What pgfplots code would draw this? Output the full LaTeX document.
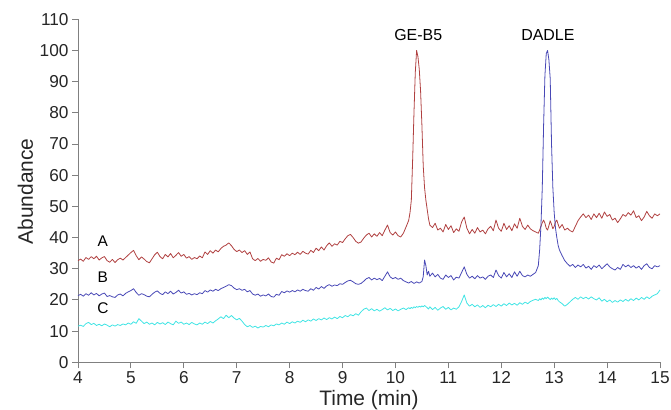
\documentclass[border=0pt]{standalone}
\usepackage{fontspec}
\setmainfont{Liberation Sans}
\usepackage{pgfplots}
\usepackage{pgfplotstable}
\pgfplotsset{compat=1.18}

\definecolor{trA}{RGB}{176,64,64}
\definecolor{trB}{RGB}{72,72,182}
\definecolor{trC}{RGB}{64,228,228}
\definecolor{axgray}{RGB}{128,128,128}

% chromatogram traces: time, A, B, C
\pgfplotstableread{
x A B C
4.00 32.6 21.4 11.6
4.05 33.1 21.8 11.9
4.10 32.4 21.2 11.5
4.15 33.6 22.0 12.4
4.20 33.0 21.5 12.8
4.25 33.9 22.3 12.1
4.30 33.2 21.6 12.5
4.35 34.0 22.1 11.8
4.40 32.8 21.3 12.2
4.45 33.5 21.9 11.7
4.50 33.9 22.2 12.3
4.55 32.6 21.1 11.9
4.60 32.1 21.4 11.4
4.65 33.0 21.0 12.0
4.70 32.0 20.8 11.6
4.75 32.9 21.6 12.1
4.80 33.4 21.9 11.8
4.85 32.8 21.3 12.3
4.90 33.6 22.1 12.0
4.95 34.4 22.6 12.6
5.00 35.2 23.0 12.2
5.05 35.9 23.6 13.0
5.10 34.2 22.4 12.5
5.15 32.9 21.5 14.0
5.20 33.8 22.0 13.2
5.25 33.1 21.7 12.4
5.30 32.3 21.2 12.9
5.35 31.9 21.0 12.2
5.40 33.2 21.8 12.6
5.45 34.5 22.5 12.0
5.50 35.3 22.9 12.8
5.55 33.9 22.1 12.3
5.60 33.2 21.7 12.7
5.65 34.6 22.6 12.1
5.70 33.8 22.0 12.9
5.75 34.9 22.8 12.4
5.80 33.5 21.9 12.0
5.85 34.3 22.4 13.2
5.90 35.2 23.1 12.5
5.95 34.0 22.2 12.9
6.00 34.6 22.6 12.2
6.05 33.4 21.8 12.6
6.10 33.9 22.1 12.1
6.15 33.0 21.6 12.8
6.20 33.6 22.0 12.3
6.25 33.2 21.7 12.0
6.30 34.1 22.3 12.6
6.35 33.5 22.0 12.2
6.40 35.4 23.0 12.9
6.45 34.6 22.5 12.4
6.50 35.8 23.2 13.1
6.55 35.0 22.8 12.6
6.60 36.0 23.4 13.3
6.65 35.4 23.0 13.9
6.70 36.5 23.6 14.6
6.75 37.2 24.0 14.0
6.80 37.6 24.4 15.1
6.85 38.3 24.9 14.3
6.90 37.4 24.6 15.0
6.95 36.2 23.8 14.2
7.00 35.5 23.3 13.6
7.05 36.0 23.6 14.1
7.10 35.2 23.1 13.2
7.15 35.8 23.4 12.1
7.20 34.6 22.6 11.4
7.25 35.4 23.0 11.8
7.30 33.2 21.9 11.2
7.35 32.6 21.5 11.6
7.40 33.3 21.9 11.0
7.45 32.4 21.2 11.5
7.50 33.0 21.6 11.3
7.55 32.7 21.3 11.8
7.60 33.5 21.9 11.4
7.65 32.2 21.1 12.0
7.70 31.8 20.9 11.7
7.75 33.4 21.8 12.3
7.80 32.9 21.5 12.0
7.85 34.5 22.7 12.6
7.90 34.0 22.3 12.2
7.95 34.8 22.9 12.9
8.00 34.2 22.5 12.4
8.05 35.0 23.0 13.0
8.10 34.5 22.6 12.6
8.15 35.3 23.2 13.2
8.20 34.6 22.8 12.8
8.25 35.6 23.4 13.5
8.30 35.0 23.0 13.0
8.35 34.7 22.8 13.6
8.40 35.9 23.6 13.2
8.45 35.2 23.1 13.9
8.50 36.6 24.0 13.4
8.55 35.8 23.5 14.0
8.60 37.0 24.3 13.6
8.65 36.0 23.7 14.2
8.70 37.4 24.5 13.7
8.75 38.3 24.9 14.3
8.80 37.2 24.4 13.9
8.85 38.0 24.8 14.5
8.90 37.6 24.6 14.0
8.95 38.8 25.2 14.7
9.00 38.4 25.0 14.3
9.05 39.6 25.6 15.0
9.10 40.6 26.1 14.6
9.15 41.0 26.3 15.3
9.20 40.0 25.8 14.9
9.25 38.8 25.2 15.6
9.30 38.2 25.0 15.1
9.35 38.6 25.3 16.2
9.40 39.8 26.0 17.0
9.45 40.8 26.8 17.4
9.50 41.4 27.2 16.6
9.55 40.2 26.4 17.2
9.60 41.2 27.0 16.5
9.65 40.4 26.5 17.0
9.70 41.6 26.9 16.4
9.75 40.6 26.2 16.9
9.80 42.4 27.6 17.5
9.85 44.0 29.0 16.8
9.90 41.6 27.4 17.3
9.95 40.8 26.8 16.6
10.00 41.8 27.2 17.1
10.05 40.6 26.6 16.5
10.10 40.2 27.0 17.0
10.15 41.4 26.2 17.4
10.20 43.4 25.8 16.9
10.25 45.5 25.4 17.5
10.275 48 25.7 17.2
10.30 52 25.9 17.6
10.325 65 25.6 17.3
10.35 80 25.3 17.8
10.375 93 25.5 17.5
10.40 100 25.8 17.9
10.425 98 25.6 17.6
10.45 94 25.4 18.0
10.475 87 25.7 17.7
10.50 76 25.9 18.1
10.525 63 27.5 17.8
10.55 56 32.8 18.2
10.575 52 31.0 17.9
10.60 49 28.0 17.5
10.625 46.0 29.2 17.1
10.65 44.0 27.6 17.8
10.70 43.2 28.6 16.9
10.75 44.6 27.4 17.6
10.80 42.4 28.2 16.7
10.85 43.0 27.0 17.4
10.90 41.8 26.6 17.9
10.95 44.2 28.0 17.0
11.00 42.6 27.2 17.6
11.05 43.8 27.8 16.8
11.10 41.6 26.4 17.4
11.15 42.8 27.3 17.0
11.20 42.0 27.0 17.8
11.25 45.0 28.8 19.5
11.30 46.6 30.6 21.6
11.35 43.0 28.2 19.0
11.40 41.2 27.0 18.0
11.45 42.6 27.6 18.6
11.50 41.4 26.8 17.8
11.55 43.2 27.8 18.4
11.60 41.8 27.0 17.6
11.65 42.4 27.4 18.2
11.70 41.2 26.6 17.5
11.75 42.8 27.6 18.3
11.80 43.6 28.0 17.8
11.85 42.2 27.2 18.5
11.90 45.6 29.6 17.9
11.95 43.0 27.8 18.6
12.00 42.0 27.0 18.0
12.05 44.6 28.8 18.8
12.10 42.6 27.4 18.2
12.15 43.8 28.4 19.0
12.20 42.2 27.2 18.4
12.25 44.4 29.0 18.9
12.30 43.0 27.6 18.3
12.35 46.2 29.2 19.1
12.40 43.6 27.8 18.6
12.45 42.6 27.4 19.3
12.50 44.0 28.0 18.8
12.55 42.8 27.6 19.5
12.60 42.2 28.2 19.9
12.65 41.8 28.8 20.2
12.70 41.4 31.0 19.8
12.725 42.4 36 20.4
12.75 43.6 44 20.0
12.775 44.8 56 20.6
12.80 45.6 76 20.2
12.825 44.6 92 20.8
12.85 43.0 99 20.4
12.875 42.4 100 20.9
12.90 43.8 97 20.5
12.925 45.4 91 20.1
12.95 44.2 70 20.6
12.975 42.8 56 20.2
13.00 43.6 48 20.7
13.025 45.0 43 20.1
13.05 45.6 40 20.5
13.075 44.2 37.5 19.8
13.10 43.0 36.0 19.4
13.15 44.2 34.2 18.8
13.20 42.4 32.6 18.0
13.25 43.0 31.6 18.6
13.30 42.2 30.8 19.4
13.35 41.8 31.4 20.2
13.40 43.6 30.4 20.8
13.45 45.4 31.2 20.2
13.50 46.6 30.6 21.0
13.55 47.6 31.4 20.4
13.60 46.4 30.2 20.9
13.65 47.2 30.8 20.3
13.70 45.8 29.8 21.0
13.75 47.6 31.0 20.4
13.80 46.4 30.4 20.0
13.85 47.8 31.2 20.7
13.90 46.2 30.0 19.6
13.95 48.2 30.8 20.2
14.00 46.8 31.6 19.4
14.05 47.4 30.6 20.0
14.10 45.6 30.0 19.2
14.15 46.2 29.6 19.8
14.20 44.8 30.4 19.3
14.25 46.0 29.8 20.0
14.30 47.4 31.4 19.5
14.35 46.8 30.6 20.2
14.40 48.0 31.2 19.6
14.45 47.2 30.4 20.4
14.50 48.6 31.0 19.8
14.55 46.4 30.2 20.6
14.60 47.0 30.8 20.0
14.65 45.4 29.8 20.8
14.70 46.6 31.0 20.2
14.75 48.4 31.6 21.0
14.80 47.0 30.4 20.4
14.85 46.2 30.0 21.2
14.90 47.6 31.0 21.6
14.95 47.0 30.6 22.0
15.00 47.6 31.0 23.2
}\chrom

\begin{document}
\begin{tikzpicture}
\begin{axis}[
    scale only axis,
    width=582bp, height=343bp,
    xmin=4, xmax=15,
    ymin=0, ymax=110,
    xtick={4,5,...,15},
    ytick={0,10,...,110},
    axis lines*=left,
    axis line style={axgray, line width=0.9pt},
    tick style={axgray, line width=0.9pt},
    tick align=outside,
    major tick length=6bp,
    clip=false,
    /pgf/number format/assume math mode=true,
    tick label style={font=\fontsize{17.3}{20}\selectfont, text=black!85},
    xlabel={Time (min)},
    ylabel={Abundance},
    label style={font=\fontsize{21}{25}\selectfont, text=black!85},
    xlabel style={at={(axis description cs:0.5,0)}, anchor=center, yshift=-37.5bp},
    ylabel style={at={(axis description cs:-0.0902,0.498)}, anchor=center},
    every axis plot/.append style={line width=0.8pt, line join=round},
]
\addplot[trA] table[x=x, y=A] {\chrom};
\addplot[trB] table[x=x, y=B] {\chrom};
\addplot[trC] table[x=x, y=C] {\chrom};

\node[font=\fontsize{15.5}{18}\selectfont] at (axis cs:4.47,38.7) {A};
\node[font=\fontsize{15.5}{18}\selectfont] at (axis cs:4.47,27.3) {B};
\node[font=\fontsize{15.5}{18}\selectfont] at (axis cs:4.47,17.3) {C};
\node[font=\fontsize{16}{19}\selectfont] at (axis cs:10.43,104.9) {GE-B5};
\node[font=\fontsize{16}{19}\selectfont] at (axis cs:12.88,104.9) {DADLE};
\end{axis}
\pgfresetboundingbox
\path[use as bounding box] ([xshift=-78bp,yshift=-47.7bp]current axis.south west)
    rectangle ([xshift=593bp,yshift=362.3bp]current axis.south west);
\end{tikzpicture}
\end{document}
